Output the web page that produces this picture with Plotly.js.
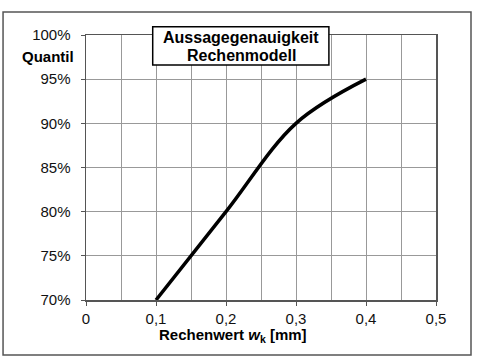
<!DOCTYPE html>
<html><head><meta charset="utf-8">
<script src="https://cdn.plot.ly/plotly-3.0.1.min.js"></script>
<style>html,body{margin:0;padding:0;background:#fff}</style>
</head><body><div id="c" style="width:489px;height:362px"></div>
<script>
var wk = [0.1, 0.2, 0.3, 0.4];
var quantil = [0.70, 0.80, 0.90, 0.95];
var xTicks = [0, 0.1, 0.2, 0.3, 0.4, 0.5];
var xTickText = ['0', '0,1', '0,2', '0,3', '0,4', '0,5'];
var yTicks = [0.70, 0.75, 0.80, 0.85, 0.90, 0.95, 1.00];
var titleLines = ['Aussagegenauigkeit', 'Rechenmodell'];

var trace = {x: wk, y: quantil, mode: 'lines', line: {color: '#000', width: 3.5, shape: 'spline', smoothing: 1}, hoverinfo: 'none'};
var layout = {
  width: 489, height: 362,
  margin: {l: 86, r: 53, t: 35, b: 62},
  paper_bgcolor: '#fff', plot_bgcolor: '#fff',
  font: {family: 'Liberation Sans, Arial, sans-serif', color: '#111', size: 15},
  showlegend: false,
  xaxis: {range: [0, 0.5], tickvals: xTicks, ticktext: xTickText,
    showgrid: true, gridcolor: '#999', gridwidth: 1, zeroline: false,
    showline: true, linecolor: '#555', linewidth: 1.5, ticks: 'outside', ticklen: 4, tickcolor: '#555',
    minor: {dtick: 0.05, tick0: 0, showgrid: true, gridcolor: '#999', gridwidth: 1},
    tickfont: {size: 15}, mirror: true, fixedrange: true},
  yaxis: {range: [0.70, 1.00], tickvals: yTicks, tickformat: '.0%',
    showgrid: true, gridcolor: '#999', gridwidth: 1, zeroline: false,
    showline: true, linecolor: '#555', linewidth: 1.5, ticks: 'outside', ticklen: 4, tickcolor: '#555',
    ticklabelstandoff: 7, tickfont: {size: 15}, mirror: true, fixedrange: true},
  shapes: [
    {type: 'rect', xref: 'paper', yref: 'paper', x0: -0.237, x1: 1.1, y0: -0.2075, y1: 1.087, line: {color: '#555', width: 1.5}},
    {type: 'rect', xref: 'paper', yref: 'paper', x0: 0.1906, x1: 0.694, y0: 0.887, y1: 1.031, line: {color: '#000', width: 1.5}, fillcolor: '#fff', layer: 'above'}
  ],
  annotations: [
    {xref: 'paper', yref: 'paper', x: -0.1086, y: 0.918, text: '<b>Quantil</b>', showarrow: false, font: {size: 15, color: '#000'}, xanchor: 'center', yanchor: 'middle'},
    {xref: 'paper', yref: 'paper', x: 0.42, y: -0.134, text: '<b>Rechenwert <i>w</i><sub>k</sub> [mm]</b>', showarrow: false, font: {size: 15, color: '#000'}, xanchor: 'center', yanchor: 'middle'},
    {xref: 'paper', yref: 'paper', x: 0.443, y: 0.991, text: '<b>' + titleLines[0] + '</b>', showarrow: false, font: {size: 16, color: '#000'}, xanchor: 'center', yanchor: 'middle'},
    {xref: 'paper', yref: 'paper', x: 0.443, y: 0.923, text: '<b>' + titleLines[1] + '</b>', showarrow: false, font: {size: 16, color: '#000'}, xanchor: 'center', yanchor: 'middle'}
  ]
};
Plotly.newPlot('c', [trace], layout, {displayModeBar: false, staticPlot: true});
</script></body></html>
